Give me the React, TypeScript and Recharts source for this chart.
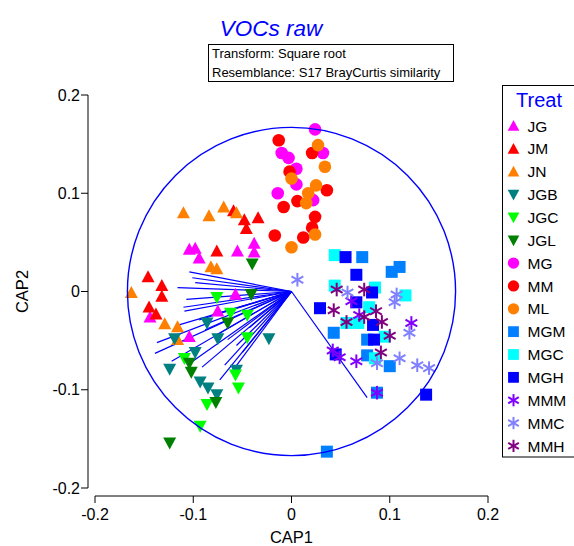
import { ReferenceDot, ReferenceLine, Scatter, ScatterChart, XAxis, YAxis } from "recharts"

const FONT = '"Liberation Sans", Arial, sans-serif'

const axisTicks = [-0.2, -0.1, 0, 0.1, 0.2]
const circleRadius = 0.167

// group: name, colour, symbol
const treatNames = ["JG", "JM", "JN", "JGB", "JGC", "JGL", "MG", "MM", "ML", "MGM", "MGC", "MGH", "MMM", "MMC", "MMH"]
const treatColors = [
  "#ff00ff", "#ff0000", "#ff8000", "#008080", "#00ff00", "#008000",
  "#ff00ff", "#ff0000", "#ff8000", "#0080ff", "#00ffff", "#0000ff",
  "#8000ff", "#8080ff", "#800080",
]
const treatSymbols = [
  "up", "up", "up", "down", "down", "down",
  "circle", "circle", "circle", "square", "square", "square",
  "star", "star", "star",
]

const jgX = [-0.104, -0.098, -0.094, -0.055, -0.038, -0.038, -0.057, -0.075, -0.104, -0.144]
const jgY = [0.043, 0.044, 0.034, 0.041, 0.049, 0.04, -0.003, -0.02, -0.046, -0.026]
const jmX = [-0.059, -0.048, -0.034, -0.046, -0.076, -0.146, -0.132, -0.132, -0.145, -0.138]
const jmY = [0.082, 0.073, 0.075, 0.064, 0.041, 0.015, 0.006, -0.005, -0.016, -0.023]
const jnX = [-0.11, -0.084, -0.069, -0.056, -0.082, -0.076, -0.163, -0.129, -0.116, -0.116]
const jnY = [0.08, 0.077, 0.086, 0.08, 0.025, 0.023, -0.001, -0.033, -0.036, -0.049]
const jgbX = [-0.119, -0.086, -0.075, -0.023, -0.124, -0.098, -0.093, -0.085, -0.076, -0.056]
const jgbY = [-0.048, -0.032, -0.048, -0.048, -0.079, -0.062, -0.092, -0.098, -0.105, -0.08]
const jgcX = [-0.076, -0.062, -0.045, -0.045, -0.109, -0.057, -0.054, -0.086, -0.093]
const jgcY = [-0.006, -0.022, -0.024, -0.047, -0.068, -0.085, -0.098, -0.115, -0.137]
const jglX = [-0.04, -0.041, -0.065, -0.104, -0.102, -0.077, -0.124]
const jglY = [0.028, -0.003, -0.032, -0.073, -0.082, -0.113, -0.154]
const mgX = [0.024, -0.01, -0.003, 0.005, 0.005, -0.014, 0.032, 0.022]
const mgY = [0.165, 0.141, 0.136, 0.125, 0.109, 0.1, 0.141, 0.093]
const mmX = [-0.013, 0.021, -0.002, 0.036, 0.006, -0.008, 0.024, 0.021, 0.012, -0.017]
const mmY = [0.154, 0.141, 0.122, 0.103, 0.092, 0.086, 0.076, 0.065, 0.055, 0.057]
const mlX = [0.027, 0.034, 0.0, 0.025, 0.017, 0.015, 0.024, 0.0]
const mlY = [0.149, 0.127, 0.115, 0.108, 0.1, 0.09, 0.058, 0.045]
const mgmX = [0.072, 0.102, 0.11, 0.043, 0.077, 0.077, 0.1, 0.087, 0.036]
const mgmY = [0.035, 0.02, 0.025, -0.042, -0.049, -0.065, -0.076, -0.103, -0.163]
const mgcX = [0.044, 0.044, 0.085, 0.116, 0.056, 0.068, 0.079, 0.095, 0.085]
const mgcY = [0.037, 0.006, 0.004, -0.004, -0.032, -0.032, -0.016, -0.046, -0.068]
const mghX = [0.055, 0.066, 0.082, 0.066, 0.029, 0.083, 0.084, 0.045, 0.137]
const mghY = [0.035, 0.017, -0.001, -0.011, -0.017, -0.034, -0.049, -0.064, -0.105]
const mmmX = [0.061, 0.069, 0.122, 0.042, 0.049, 0.066, 0.087]
const mmmY = [-0.01, -0.024, -0.032, -0.06, -0.067, -0.071, -0.103]
const mmcX = [0.006, 0.057, 0.107, 0.105, 0.12, 0.11, 0.128, 0.14, 0.087]
const mmcY = [0.012, -0.001, -0.003, -0.011, -0.042, -0.068, -0.075, -0.078, -0.073]
const mmhX = [0.046, 0.074, 0.043, 0.086, 0.056, 0.074, 0.1, 0.091, 0.092]
const mmhY = [0.002, 0.002, -0.019, -0.02, -0.031, -0.026, -0.045, -0.062, -0.031]

const groupX = [jgX, jmX, jnX, jgbX, jgcX, jglX, mgX, mmX, mlX, mgmX, mgcX, mghX, mmmX, mmcX, mmhX]
const groupY = [jgY, jmY, jnY, jgbY, jgcY, jglY, mgY, mmY, mlY, mgmY, mgcY, mghY, mmmY, mmcY, mmhY]

// vector overlay end points
const vecX = [-0.104, -0.101, -0.098, -0.116, -0.107, -0.11, -0.109, -0.118, -0.137, -0.139, -0.122, -0.102, -0.091,
  -0.068, -0.061, -0.073, -0.088, -0.078, -0.065, -0.056, -0.05, -0.094, -0.081, -0.043, 0.077]
const vecY = [0.02, 0.014, 0.009, 0.004, -0.008, -0.016, -0.02, -0.035, -0.052, -0.063, -0.071, -0.072, -0.077,
  -0.075, -0.082, -0.09, -0.039, -0.045, -0.049, -0.055, -0.062, -0.029, -0.024, -0.037, -0.108]

const W = 574
const H = 546
const plotLeft = 95
const plotTop = 95
const plotSize = 393

function marker(kind: string, color: string, cx: number, cy: number, s = 1) {
  if (kind === "up") {
    const w = 13 * s, h = 12 * s
    return <polygon points={`${cx},${cy - h * 0.55} ${cx - w / 2},${cy + h * 0.45} ${cx + w / 2},${cy + h * 0.45}`} fill={color} />
  }
  if (kind === "down") {
    const w = 13 * s, h = 12 * s
    return <polygon points={`${cx},${cy + h * 0.55} ${cx - w / 2},${cy - h * 0.45} ${cx + w / 2},${cy - h * 0.45}`} fill={color} />
  }
  if (kind === "circle") return <circle cx={cx} cy={cy} r={6.3 * s} fill={color} />
  if (kind === "square") return <rect x={cx - 6 * s} y={cy - 6 * s} width={12 * s} height={12 * s} fill={color} />
  const r = 6.8 * s
  const c = r * Math.cos(Math.PI / 6), d = r * Math.sin(Math.PI / 6)
  return (
    <g stroke={color} strokeWidth={2}>
      <line x1={cx} y1={cy - r} x2={cx} y2={cy + r} />
      <line x1={cx - c} y1={cy - d} x2={cx + c} y2={cy + d} />
      <line x1={cx - c} y1={cy + d} x2={cx + c} y2={cy - d} />
    </g>
  )
}

const fmt = (v: number) => String(v)

const yLabel = (p: any) => {
  const vb = p.viewBox
  const x = vb.x - 13.5
  const y = vb.y + vb.height / 2
  return (
    <text x={x} y={y} transform={`rotate(-90 ${x} ${y})`} textAnchor="middle" dominantBaseline="central" fontSize={16.5} fill="#000">
      CAP2
    </text>
  )
}

export default function App() {
  const pxPerUnit = plotSize / 0.4
  return (
    <div style={{ position: "absolute", left: 0, top: 0, width: W, height: H, overflow: "hidden", background: "#fff", fontFamily: FONT }}>
      <ScatterChart width={W} height={H} margin={{ top: plotTop, right: W - plotLeft - plotSize, bottom: 8, left: 35 }}>
        <XAxis
          type="number"
          dataKey="x"
          domain={[-0.2, 0.2]}
          ticks={axisTicks}
          allowDataOverflow
          height={50}
          tickSize={7}
          tickMargin={14}
          axisLine={{ stroke: "#000", transform: "translate(0 8)" }}
          tickLine={{ stroke: "#000", transform: "translate(0 8)" }}
          tick={{ fill: "#000", fontSize: 16 }}
          tickFormatter={fmt}
          label={{ value: "CAP1", position: "insideBottom", offset: -5, fill: "#000", fontSize: 16.5 }}
        />
        <YAxis
          type="number"
          dataKey="y"
          domain={[-0.2, 0.2]}
          ticks={axisTicks}
          allowDataOverflow
          width={60}
          tickSize={7}
          tickMargin={8}
          axisLine={{ stroke: "#000", transform: "translate(-7 0)" }}
          tickLine={{ stroke: "#000", transform: "translate(-7 0)" }}
          tick={{ fill: "#000", fontSize: 16 }}
          tickFormatter={fmt}
          label={{ content: yLabel }}
        />
        {treatNames.map((name, gi) => (
          <Scatter
            key={name}
            name={name}
            data={groupX[gi].map((x, i) => ({ x, y: groupY[gi][i] }))}
            isAnimationActive={false}
            shape={(p: any) => marker(treatSymbols[gi], treatColors[gi], p.cx, p.cy)}
          />
        ))}
        <ReferenceDot x={0} y={0} r={circleRadius * pxPerUnit} fill="none" stroke="#0000ff" strokeWidth={1.4} />
        {vecX.map((vx, i) => (
          <ReferenceLine
            key={i}
            segment={[{ x: 0, y: 0 }, { x: vx, y: vecY[i] }]}
            stroke="#0000ff"
            strokeWidth={1.2}
            ifOverflow="visible"
          />
        ))}
      </ScatterChart>
      <svg width={W} height={H} style={{ position: "absolute", left: 0, top: 0, pointerEvents: "none" }}>
        <text x={271} y={36} textAnchor="middle" fontSize={22.5} fontStyle="italic" fill="#0000ff">VOCs raw</text>
        <rect x={208.5} y={44.5} width={245} height={37} fill="#fff" stroke="#000" strokeWidth={1} />
        <text x={212} y={57.5} fontSize={13} fill="#000">Transform: Square root</text>
        <text x={212} y={77} fontSize={13} fill="#000">Resemblance: S17 BrayCurtis similarity</text>
        <rect x={502.5} y={85.5} width={100} height={371.5} fill="#fff" stroke="#000" strokeWidth={1} />
        <text x={516} y={107} fontSize={20} fill="#0000ff">Treat</text>
        {treatNames.map((name, i) => {
          const cy = 126 + i * 22.85
          return (
            <g key={name}>
              {marker(treatSymbols[i], treatColors[i], 513.5, cy, 0.9)}
              <text x={527.5} y={cy + 5.6} fontSize={15.5} fill="#000">{name}</text>
            </g>
          )
        })}
      </svg>
    </div>
  )
}
